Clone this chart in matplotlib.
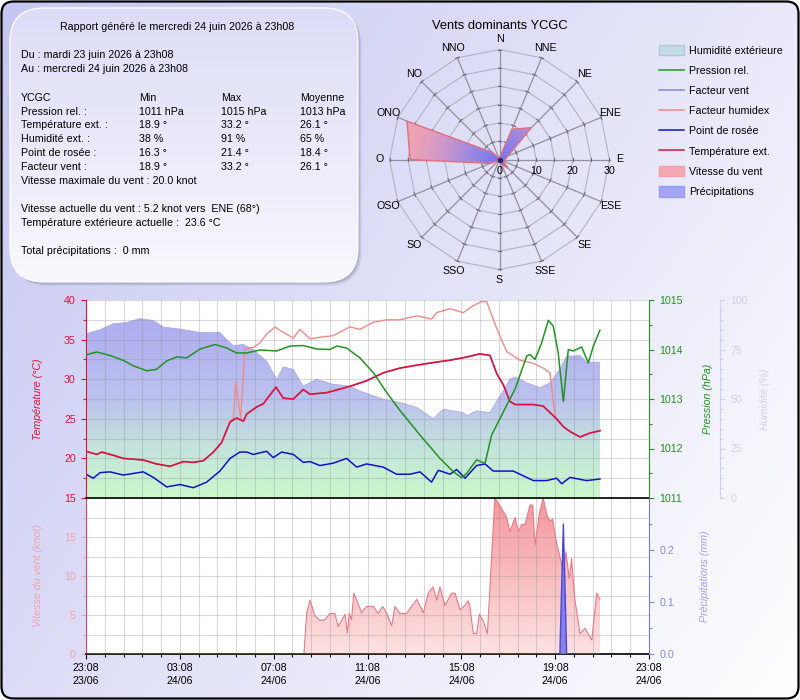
import numpy as np
import matplotlib
matplotlib.use("Agg")
import matplotlib.pyplot as plt
from matplotlib.patches import FancyBboxPatch, Patch
from matplotlib.lines import Line2D
from matplotlib.ticker import MultipleLocator, FixedLocator, FormatStrFormatter
from matplotlib.colors import LinearSegmentedColormap, to_rgb
import matplotlib.transforms as mtransforms

plt.rcParams['font.family'] = ['Liberation Sans', 'DejaVu Sans']

# ======================= DATA =======================
# time axis: hours after 23/06 23:08
x_tick_hours = [0, 4, 8, 12, 16, 20, 24]
x_tick_labels = ["23:08\n23/06", "03:08\n24/06", "07:08\n24/06", "11:08\n24/06",
                 "15:08\n24/06", "19:08\n24/06", "23:08\n24/06"]

temp_t = [0.00, 0.46, 0.67, 1.16, 1.59, 2.44, 3.01, 3.58, 4.15, 4.57, 5.00, 5.43, 5.78, 6.14,
          6.42, 6.71, 6.85, 7.28, 7.56, 7.84, 8.10, 8.41, 8.84, 9.26, 9.55, 10.26, 11.25, 11.96,
          12.67, 13.38, 13.95, 14.80, 15.52, 16.23, 16.79, 17.22, 17.51, 17.79, 18.07, 18.29,
          19.07, 19.49, 20.06, 20.35, 20.63, 21.06, 21.48, 21.91]
temp_v = [20.9, 20.5, 20.8, 20.4, 20.0, 19.8, 19.3, 19.0, 19.6, 19.5, 19.7, 20.8, 22.0, 24.6,
          25.1, 24.7, 25.6, 26.5, 26.9, 28.0, 29.0, 27.6, 27.5, 28.7, 28.1, 28.3, 29.1, 29.8,
          30.8, 31.4, 31.7, 32.1, 32.4, 32.8, 33.2, 33.0, 30.7, 29.3, 27.2, 26.8,
          26.8, 26.6, 25.0, 24.0, 23.4, 22.7, 23.2, 23.5]

# wind chill equals outside temperature over the whole period
windchill_t = temp_t
windchill_v = temp_v

humidex_t = [6.14, 6.28, 6.39, 6.59, 6.78, 7.13, 7.42, 7.70, 8.06, 8.41, 8.84, 9.12, 9.55, 9.97,
             10.54, 11.25, 11.68, 12.25, 12.82, 13.38, 14.10, 14.73, 14.95, 15.52, 16.08, 16.51,
             16.87, 17.08, 17.51, 17.93, 18.50, 19.07, 19.49, 19.78, 19.99, 20.06]
humidex_v = [24.6, 25.0, 29.7, 25.0, 33.9, 34.0, 34.6, 35.7, 36.6, 35.9, 35.2, 36.3, 35.1, 35.3,
             35.5, 36.6, 36.3, 37.2, 37.5, 37.5, 38.0, 37.6, 38.4, 38.9, 38.4, 39.3,
             39.8, 39.8, 36.4, 33.5, 32.4, 32.0, 31.4, 30.8, 25.4, 25.0]

dew_t = [0.00, 0.31, 0.60, 1.02, 1.59, 2.44, 2.87, 3.44, 4.01, 4.57, 5.14, 5.71, 6.14, 6.56, 6.85,
         7.13, 7.70, 7.98, 8.34, 8.84, 9.26, 9.55, 9.97, 10.54, 11.11, 11.54, 11.96, 12.67, 13.24,
         13.81, 14.24, 14.73, 15.02, 15.52, 15.80, 16.16, 16.65, 17.01, 17.36, 18.21, 19.07, 19.64,
         20.06, 20.28, 20.63, 21.34, 21.91]
dew_v = [18.0, 17.5, 18.2, 18.3, 17.9, 18.3, 17.6, 16.4, 16.7, 16.3, 17.0, 18.4, 20.0, 20.8, 20.8,
         20.5, 20.9, 20.1, 20.8, 20.5, 19.5, 19.6, 19.1, 19.4, 20.0, 18.9, 19.3, 18.9, 18.0,
         18.0, 18.3, 17.0, 18.5, 18.0, 18.6, 17.5, 19.1, 19.3, 18.4, 18.4, 17.2, 17.2,
         17.5, 16.8, 17.6, 17.2, 17.4]

pres_t = [0.00, 0.46, 1.02, 1.59, 2.02, 2.59, 3.01, 3.44, 3.87, 4.29, 4.86, 5.50, 6.00, 6.42, 6.85,
          7.42, 8.13, 8.70, 9.26, 9.83, 10.40, 10.69, 11.11, 11.68, 12.25, 12.82, 13.38, 14.24,
          15.09, 15.66, 16.01, 16.23, 16.65, 17.01, 17.29, 17.93, 18.29, 18.79, 18.93, 19.14,
          19.42, 19.71, 19.92, 20.13, 20.35, 20.56, 20.77, 21.13, 21.41, 21.63, 21.91]
pres_v = [1013.89, 1013.95, 1013.88, 1013.78, 1013.67, 1013.57, 1013.60, 1013.77, 1013.85, 1013.83,
          1014.01, 1014.10, 1014.03, 1013.93, 1013.93, 1013.99, 1013.97, 1014.07, 1014.08, 1014.01,
          1014.00, 1014.07, 1014.03, 1013.83, 1013.53, 1013.13, 1012.77, 1012.27, 1011.80, 1011.53,
          1011.41, 1011.50, 1011.77, 1011.70, 1012.27, 1012.87, 1013.20, 1013.87, 1013.90, 1013.80,
          1014.13, 1014.59, 1014.47, 1013.93, 1012.95, 1014.00, 1013.97, 1014.05, 1013.73, 1014.07,
          1014.39]

hum_t = [0.00, 0.60, 1.16, 1.73, 2.30, 2.87, 3.30, 4.01, 4.86, 5.71, 6.00, 6.28, 6.71, 7.13, 7.70,
         8.13, 8.41, 8.84, 9.26, 9.83, 10.54, 11.25, 11.68, 12.67, 13.38, 14.10, 14.80, 15.23,
         16.08, 16.23, 16.65, 17.22, 17.65, 18.07, 18.29, 18.79, 19.35, 19.78, 20.20, 20.49,
         21.06, 21.34, 21.91]
hum_v = [82.9, 85.0, 88.0, 88.6, 90.6, 89.6, 86.3, 85.3, 83.6, 83.6, 79.9, 76.9, 77.6, 74.9, 69.1,
         59.9, 66.2, 64.9, 56.5, 59.9, 57.4, 56.5, 54.0, 49.8, 48.2, 45.7, 40.0, 44.8,
         43.1, 41.5, 44.0, 43.1, 51.5, 59.9, 61.2, 58.2, 55.7, 58.2, 64.9, 71.6,
         71.9, 68.6, 68.6]

wind_t = [0.00, 9.29, 9.41, 9.55, 9.76, 9.97, 10.19, 10.40, 10.61, 10.75, 11.04, 11.14, 11.22, 11.32,
          11.42, 11.75, 11.96, 12.25, 12.46, 12.65, 12.82, 13.03, 13.17, 13.38, 13.67, 14.10, 14.38,
          14.59, 14.80, 14.95, 15.09, 15.30, 15.59, 15.73, 15.94, 16.08, 16.30, 16.37, 16.51, 16.65,
          16.77, 16.94, 17.11, 17.43, 17.65, 17.93, 18.07, 18.29, 18.43, 18.57, 18.71, 18.93,
          19.04, 19.14, 19.33, 19.49, 19.64, 19.78, 19.89, 20.06, 20.20, 20.35, 20.46, 20.60, 20.70,
          20.84, 21.06, 21.27, 21.56, 21.77, 21.91]
wind_v = [0, 0, 5.3, 6.9, 4.9, 4.3, 4.4, 5.2, 5.2, 3.5, 5.1, 2.7, 5.2, 4.4,
          7.8, 5.3, 6.1, 6.1, 5.2, 6.1, 5.2, 3.6, 6.1, 5.2, 5.2, 7.0, 5.3,
          7.8, 8.6, 6.9, 8.6, 6.2, 7.8, 7.8, 5.7, 6.0, 6.8, 6.0, 2.6, 2.6,
          5.1, 4.2, 2.6, 20.0, 19.0, 17.5, 15.7, 17.5, 15.7, 16.6, 16.6, 19.1,
          19.1, 14.0, 18.1, 20.0, 17.9, 17.0, 17.3, 14.2, 12.5, 10.5, 13.1, 9.7, 12.2,
          7.0, 2.6, 3.3, 1.8, 7.8, 7.0]

rain_t = [0.00, 20.20, 20.35, 20.49, 21.91]
rain_v = [0.0, 0.0, 0.25, 0.0, 0.0]

wind_ticks = [0, 5, 10, 15]
rain_ticks = [0.0, 0.1, 0.2]

rose_dirs = ["N", "NNE", "NE", "ENE", "E", "ESE", "SE", "SSE",
             "S", "SSO", "SO", "OSO", "O", "ONO", "NO", "NNO"]
rose_vals = [0.5, 8.9, 12.3, 2.5, 1.5, 1.0, 3.3, 1.5, 0.5, 0.3, 0.3, 2.8, 24.4, 27.3, 2.7, 0.3]
rose_rlabels = [0, 10, 20, 30]

info_title = "Rapport généré le mercredi 24 juin 2026 à 23h08"
info_period = ["Du : mardi 23 juin 2026 à 23h08", "Au : mercredi 24 juin 2026 à 23h08"]
table_header = ["YCGC", "Min", "Max", "Moyenne"]
table_rows = [["Pression rel. :", "1011 hPa", "1015 hPa", "1013 hPa"],
              ["Température ext. :", "18.9 °", "33.2 °", "26.1 °"],
              ["Humidité ext. :", "38 %", "91 %", "65 %"],
              ["Point de rosée :", "16.3 °", "21.4 °", "18.4 °"],
              ["Facteur vent :", "18.9 °", "33.2 °", "26.1 °"]]
info_lines = ["Vitesse maximale du vent : 20.0 knot", "",
              "Vitesse actuelle du vent : 5.2 knot vers  ENE (68°)",
              "Température extérieure actuelle :  23.6 °C", "",
              "Total précipitations :  0 mm"]

legend_labels = ["Humidité extérieure", "Pression rel.", "Facteur vent", "Facteur humidex",
                 "Point de rosée", "Température ext.", "Vitesse du vent", "Précipitations"]

# ======================= STYLE =======================
FS = 7.7
W, H = 800, 700
RED = '#dc1438'
GREEN = '#229322'
DEW = '#1212c4'
HUMIDEX = '#f08a8a'
CHILL = '#8484e4'
HUMC = '#cfcff2'
WINDC = '#eca4b2'
RAINC = '#8a8ae4'

fig = plt.figure(figsize=(W / 100, H / 100), dpi=100, facecolor='white')


def fx(px):
    return px / W


def fy(py):
    return 1 - py / H


def vgrad(c_top, c_bot, n=128):
    t = np.linspace(0, 1, n)[:, None, None]
    a = np.array(to_rgb(c_top))[None, None, :]
    b = np.array(to_rgb(c_bot))[None, None, :]
    return a * (1 - t) + b * t


def vgrad_stops(stops, n=200):
    # stops: list of (fraction from top, colour)
    t = np.linspace(0, 1, n)
    pos = [p for p, _ in stops]
    cols = np.array([to_rgb(c) for _, c in stops])
    out = np.stack([np.interp(t, pos, cols[:, k]) for k in range(3)], axis=-1)
    return out[:, None, :]


# ---------------- background panel ----------------
bg = fig.add_axes([0, 0, 1, 1])
bg.axis('off')
gy, gx = np.mgrid[0:1:120j, 0:1:140j]
s = np.clip(0.62 * gx + 0.38 * gy, 0, 1)[..., None]
c0 = np.array([198, 198, 242]) / 255.
bgimg = c0 * (1 - s) + s
im = bg.imshow(bgimg, extent=[0, W, H, 0], aspect='auto', interpolation='bilinear', zorder=0)
frame = FancyBboxPatch((1.5, 1.5), W - 3, H - 3, boxstyle="round,pad=0,rounding_size=12",
                       fc='none', ec='black', lw=1.6, zorder=6)
bg.add_patch(frame)
im.set_clip_path(frame)

# info box
bx, by, bw, bh = 10, 8, 348, 274
for k, a in enumerate([0.16, 0.12, 0.08, 0.05]):
    bg.add_patch(FancyBboxPatch((bx + 1 + k, by + 1 + k), bw, bh,
                                boxstyle="round,pad=0,rounding_size=34",
                                fc=(0.2, 0.2, 0.28, a), ec='none', zorder=1))
box = FancyBboxPatch((bx, by), bw, bh, boxstyle="round,pad=0,rounding_size=34",
                     fc='none', ec=(1, 1, 1, 0.9), lw=1.0, zorder=3)
bg.add_patch(box)
bim = bg.imshow(vgrad('#dcdcf7', '#f8f8fd'), extent=[bx, bx + bw, by + bh, by], aspect='auto',
                interpolation='bilinear', zorder=2)
bim.set_clip_path(box)
bg.set_xlim(0, W)
bg.set_ylim(H, 0)

bg.text(176.7, 26.7, info_title, ha='center', va='center', fontsize=FS, zorder=4)
for i, line in enumerate(info_period):
    bg.text(20.7, 55 + 14 * i, line, ha='left', va='center', fontsize=FS, zorder=4)
col_x = [20.7, 139.3, 220.7, 300.0]
pitch = 13.9
y0 = 97.7
for j, cell in enumerate(table_header):
    bg.text(col_x[j], y0, cell, ha='left', va='center', fontsize=FS, zorder=4)
for i, row in enumerate(table_rows):
    for j, cell in enumerate(row):
        bg.text(col_x[j], y0 + pitch * (i + 1), cell, ha='left', va='center', fontsize=FS, zorder=4)
for i, line in enumerate(info_lines):
    if line:
        bg.text(col_x[0], y0 + pitch * (len(table_rows) + 1 + i), line, ha='left', va='center',
                fontsize=FS, zorder=4)

# ---------------- wind rose ----------------
pax = fig.add_axes([fx(389.5), fy(269.5), 220 / W, 220 / H], projection='polar')
pax.set_theta_zero_location('N')
pax.set_theta_direction(-1)
pax.set_ylim(0, 30)
pax.set_xticks([])
pax.set_yticks([])
pax.grid(False)
pax.spines['polar'].set_visible(False)
pax.patch.set_visible(False)

theta = np.deg2rad(np.arange(len(rose_dirs)) * 360.0 / len(rose_dirs))
tc = np.append(theta, theta[0])
for r in range(5, 31, 5):
    pax.plot(tc, [r] * len(tc), color='#b2b2c4', lw=0.8, zorder=1, clip_on=False)
for th in theta:
    pax.plot([th, th], [0, 30], color='#9090a0', lw=0.9, zorder=1, clip_on=False)
    for r in range(5, 31, 5):
        d = 2.0 / (r * 110 / 30)
        pax.plot([th - d, th + d], [r, r], color='#6a6a7a', lw=0.8, zorder=1, clip_on=False)

rc = np.append(rose_vals, rose_vals[0])
poly = pax.fill(tc, rc, facecolor='none', edgecolor='#e2707e', lw=1.0, zorder=3)[0]
tg = np.linspace(0, 2 * np.pi, 121)
rg = np.linspace(0, 30, 61)
TT, RR = np.meshgrid(tg, rg)
Cm = 0.5 * (RR[:-1, :-1] + RR[1:, :-1])
rose_cmap = LinearSegmentedColormap.from_list(
    'rose', ['#7474ee', '#9a86e2', '#c896cc', '#eaa0b6', '#eea4b6'])
mesh = pax.pcolormesh(TT, RR, Cm, cmap=rose_cmap, vmin=0, vmax=30, shading='flat',
                      antialiased=False, edgecolors='none', linewidth=0, zorder=2)
mesh.set_clip_path(poly)
pax.plot([0], [0], 'o', ms=3, color='#2a2a70', zorder=4)
pax.set_ylim(0, 30)

for th, name in zip(theta, rose_dirs):
    pax.text(th, 32.8, name, ha='center', va='center', fontsize=FS)
rtrans = mtransforms.offset_copy(pax.transData, fig=fig, x=0, y=-12, units='dots')
for r in rose_rlabels:
    pax.text(np.pi / 2, r, str(r), transform=rtrans, ha='center', va='center', fontsize=FS)

fig.text(fx(500), fy(26), "Vents dominants YCGC", ha='center', va='center', fontsize=9.3)

# ---------------- legend ----------------
handles = [Patch(facecolor='#c2dbe6', edgecolor='#b0c8dc'),
           Line2D([], [], color=GREEN, lw=1.1),
           Line2D([], [], color=CHILL, lw=1.1),
           Line2D([], [], color=HUMIDEX, lw=1.1),
           Line2D([], [], color=DEW, lw=1.1),
           Line2D([], [], color=RED, lw=1.1),
           Patch(facecolor='#f4a8b2', edgecolor='#f0a0aa'),
           Patch(facecolor='#a4a4f4', edgecolor='#9c9cf0')]
fig.legend(handles, legend_labels, loc='upper left', bbox_to_anchor=(fx(659), fy(45)),
           frameon=False, fontsize=FS, handlelength=2.3, handleheight=1.1, handletextpad=0.5,
           labelspacing=0.88, borderpad=0, borderaxespad=0)

# ---------------- upper panel ----------------
ax_t = fig.add_axes([fx(86), fy(498), 563 / W, 198 / H])
ax_h = ax_t.twinx()
ax_p = ax_t.twinx()
ax_h.set_zorder(1)
ax_t.set_zorder(2)
ax_p.set_zorder(3)
ax_h.patch.set_visible(True)
ax_h.patch.set_facecolor('white')
ax_t.patch.set_visible(False)

hpoly = ax_h.fill_between(hum_t, 0, hum_v, facecolor='none', edgecolor='none')
hum_grad = vgrad_stops([(0.0, '#acacf2'), (0.2, '#b2b2f0'), (0.5, '#bcc2ee'),
                        (0.75, '#c4e4dc'), (1.0, '#cbf8cb')])
him = ax_h.imshow(hum_grad, extent=[0, 24, 0, 100], aspect='auto',
                  interpolation='bilinear', zorder=1)
him.set_clip_path(hpoly.get_paths()[0], transform=ax_h.transData)
ax_h.plot(hum_t, hum_v, color='#aaaaea', lw=0.6, zorder=2)
ax_h.set_ylim(0, 100)
ax_h.set_xlim(0, 24)
ax_h.yaxis.tick_right()
ax_h.spines['right'].set_position(('axes', 1 + 71 / 563))
ax_h.yaxis.set_major_locator(MultipleLocator(25))
ax_h.yaxis.set_minor_locator(MultipleLocator(5))
ax_h.tick_params(axis='y', which='major', colors=HUMC, labelsize=FS, length=3.3, width=0.8, pad=4)
ax_h.tick_params(axis='y', which='minor', colors=HUMC, length=2, width=0.8)
for sp in ['top', 'left', 'bottom']:
    ax_h.spines[sp].set_visible(False)
ax_h.spines['right'].set_color(HUMC)

ax_t.plot(humidex_t, humidex_v, color=HUMIDEX, lw=1.0)
ax_t.plot(windchill_t, windchill_v, color=CHILL, lw=1.0)
ax_t.plot(dew_t, dew_v, color=DEW, lw=1.1)
ax_t.plot(temp_t, temp_v, color=RED, lw=1.2)
ax_t.set_xlim(0, 24)
ax_t.set_ylim(15, 40)
ax_t.xaxis.set_major_locator(FixedLocator(x_tick_hours))
ax_t.xaxis.set_minor_locator(MultipleLocator(0.8))
ax_t.yaxis.set_major_locator(MultipleLocator(5))
ax_t.yaxis.set_minor_locator(MultipleLocator(2.5))
ax_t.set_axisbelow(True)
ax_t.grid(which='both', color='#8e8e9a', lw=0.8, alpha=0.32)
ax_t.tick_params(axis='x', which='both', length=0, labelbottom=False)
ax_t.tick_params(axis='y', which='major', colors=RED, labelsize=FS, length=3.3, width=0.8, pad=4)
ax_t.tick_params(axis='y', which='minor', colors=RED, length=2, width=0.8)
ax_t.spines['top'].set_visible(False)
ax_t.spines['right'].set_visible(False)
ax_t.spines['left'].set_color(RED)
ax_t.spines['bottom'].set_color('black')
ax_t.spines['bottom'].set_linewidth(1.2)

ax_p.plot(pres_t, pres_v, color=GREEN, lw=1.1)
ax_p.set_ylim(1011, 1015)
ax_p.yaxis.set_major_locator(MultipleLocator(1))
ax_p.yaxis.set_minor_locator(MultipleLocator(0.5))
ax_p.yaxis.set_major_formatter(FormatStrFormatter('%d'))
ax_p.tick_params(axis='y', which='major', colors=GREEN, labelsize=FS, length=3.3, width=0.8, pad=4)
ax_p.tick_params(axis='y', which='minor', colors=GREEN, length=2, width=0.8)
for sp in ['top', 'left', 'bottom']:
    ax_p.spines[sp].set_visible(False)
ax_p.spines['right'].set_color(GREEN)

# ---------------- lower panel ----------------
ax_w = fig.add_axes([fx(86), fy(654), 563 / W, 156 / H])
ax_r = ax_w.twinx()
ax_w.set_zorder(1)
ax_r.set_zorder(2)

wpoly = ax_w.fill_between(wind_t, 0, wind_v, facecolor='none', edgecolor='none')
wim = ax_w.imshow(vgrad('#f5979d', '#fde2e2'), extent=[0, 24, 0, 20], aspect='auto',
                  interpolation='bilinear', zorder=1)
wim.set_clip_path(wpoly.get_paths()[0], transform=ax_w.transData)
ax_w.plot(wind_t, wind_v, color='#e67a88', lw=0.8, zorder=2)
ax_w.set_xlim(0, 24)
ax_w.set_ylim(0, 20)
ax_w.xaxis.set_major_locator(FixedLocator(x_tick_hours))
ax_w.set_xticklabels(x_tick_labels, fontsize=FS, linespacing=1.35)
ax_w.xaxis.set_minor_locator(MultipleLocator(0.8))
ax_w.yaxis.set_major_locator(FixedLocator(wind_ticks))
ax_w.yaxis.set_minor_locator(MultipleLocator(2.5))
ax_w.set_axisbelow('line')
ax_w.grid(which='both', color='#8e8e9a', lw=0.8, alpha=0.32)
ax_w.tick_params(axis='x', which='major', length=3.5, width=0.8, color='black', pad=3)
ax_w.tick_params(axis='x', which='minor', length=2.2, width=0.8, color='black')
ax_w.tick_params(axis='y', which='major', colors=WINDC, labelsize=FS, length=3.3, width=0.8, pad=4)
ax_w.tick_params(axis='y', which='minor', colors=WINDC, length=2, width=0.8)
ax_w.spines['top'].set_visible(False)
ax_w.spines['right'].set_visible(False)
ax_w.spines['left'].set_color('#d8485e')
ax_w.spines['bottom'].set_color('black')
ax_w.spines['bottom'].set_linewidth(1.2)

ax_r.fill_between(rain_t, 0, rain_v, facecolor='#7272ee', alpha=0.85, lw=0, zorder=2)
ax_r.plot(rain_t, rain_v, color='#4848d6', lw=1.0, zorder=3)
ax_r.set_ylim(0, 0.3)
ax_r.yaxis.set_major_locator(FixedLocator(rain_ticks))
ax_r.yaxis.set_minor_locator(FixedLocator([0.05, 0.15, 0.25]))
ax_r.yaxis.set_major_formatter(FormatStrFormatter('%.1f'))
ax_r.tick_params(axis='y', which='major', colors=RAINC, labelsize=FS, length=3.3, width=0.8, pad=4)
ax_r.tick_params(axis='y', which='minor', colors=RAINC, length=2, width=0.8)
for sp in ['top', 'left', 'bottom']:
    ax_r.spines[sp].set_visible(False)
ax_r.spines['right'].set_color('#7a7ad8')

# ---------------- axis titles ----------------
fig.text(fx(38), fy(399), "Température (°C)", rotation=90, ha='center', va='center',
         fontsize=FS, style='italic', color=RED)
fig.text(fx(708), fy(399), "Pression (hPa)", rotation=90, ha='center', va='center',
         fontsize=FS, style='italic', color=GREEN)
fig.text(fx(765), fy(399), "Humidité (%)", rotation=90, ha='center', va='center',
         fontsize=FS, style='italic', color=HUMC)
fig.text(fx(38), fy(576), "Vitesse du vent (knot)", rotation=90, ha='center', va='center',
         fontsize=FS, style='italic', color=WINDC)
fig.text(fx(705), fy(576), "Précipitations (mm)", rotation=90, ha='center', va='center',
         fontsize=FS, style='italic', color='#a2a2ea')

fig.savefig("out.png", dpi=100, facecolor='white')
